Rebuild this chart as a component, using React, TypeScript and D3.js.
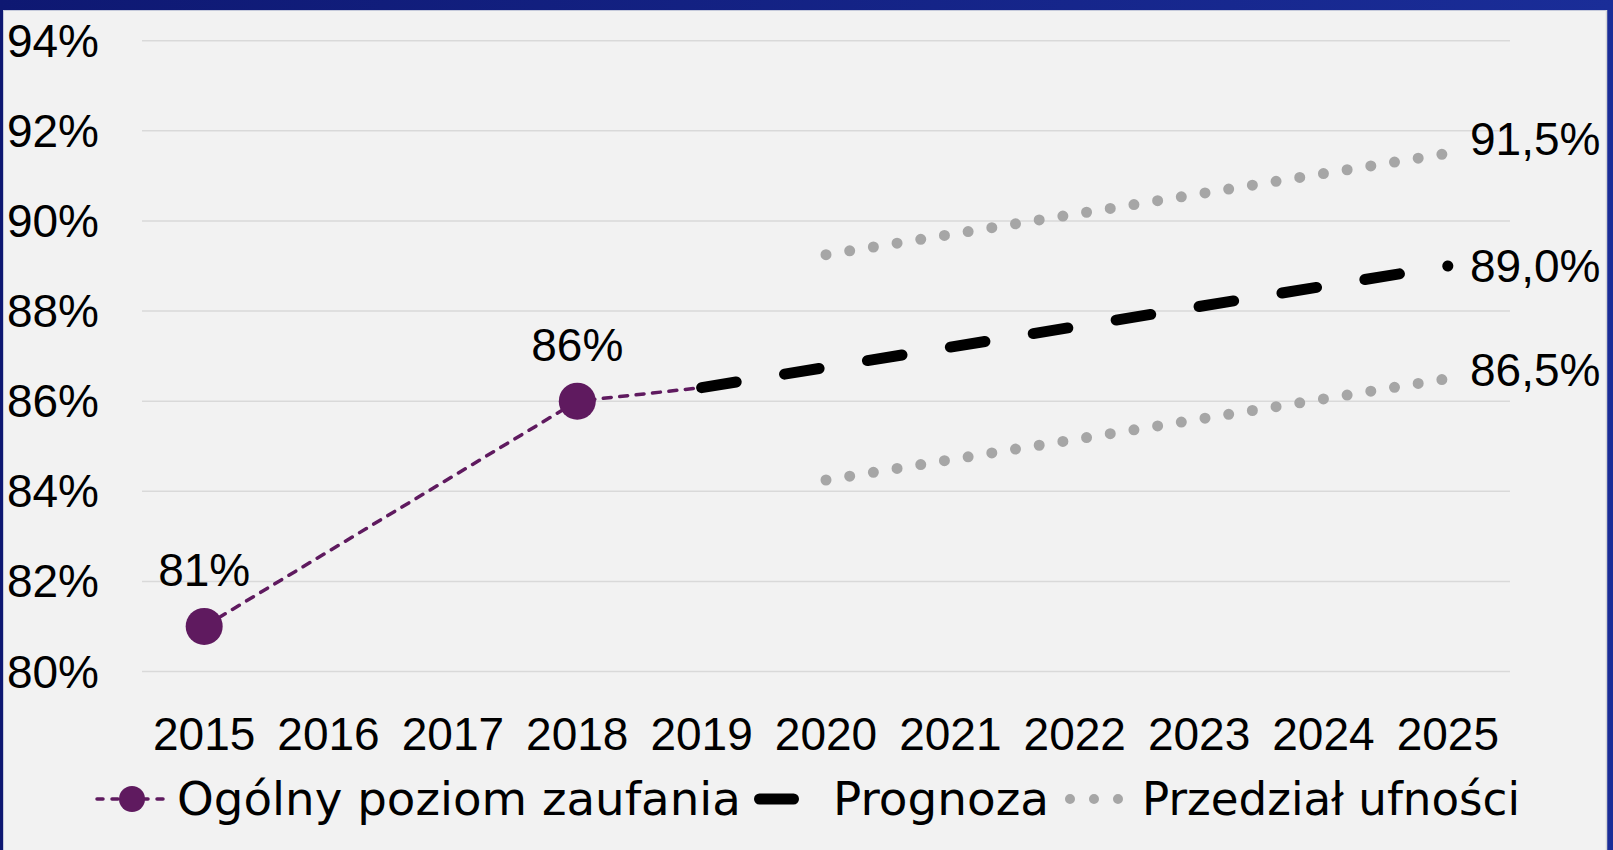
import React from 'react'
import * as d3 from 'd3'

// data
const years = [2015, 2016, 2017, 2018, 2019, 2020, 2021, 2022, 2023, 2024, 2025]
const yTicks = [80, 82, 84, 86, 88, 90, 92, 94]

const trustYears = [2015, 2018]
const trustValues = [81, 86]

const forecastYears = [2019, 2020, 2021, 2022, 2023, 2024, 2025]
const forecastValues = [86.3, 86.75, 87.2, 87.65, 88.1, 88.55, 89.0]

const bandYears = [2020, 2021, 2022, 2023, 2024, 2025]
const upperValues = [89.25, 89.7, 90.15, 90.6, 91.05, 91.5]
const lowerValues = [84.25, 84.7, 85.15, 85.6, 86.05, 86.5]

const legendLabels = ['Ogólny poziom zaufania', 'Prognoza', 'Przedział ufności']

const W = 1613, H = 850
const PURPLE = '#5f1a5f'
const GREY_DOT = '#a6a6a6'
const numFont = '"Century Gothic", "Liberation Sans", Arial, sans-serif'
const legFont = '"Century Gothic", "DejaVu Sans", sans-serif'

const pl = d3.formatLocale({ decimal: ',', thousands: ' ', grouping: [3], currency: ['', ' zł'] })
const fmt1 = pl.format('.1f')

export default function App() {
  const x = d3.scalePoint<number>().domain(years).range([142, 1510]).padding(0.5)
  const y = d3.scaleLinear().domain([80, 94]).range([671.5, 40.7])

  const line = d3.line<[number, number]>().x(d => x(d[0])!).y(d => y(d[1]))

  const trustPts: [number, number][] = trustYears.map((yr, i) => [yr, trustValues[i]])
  const forecastPts: [number, number][] = forecastYears.map((yr, i) => [yr, forecastValues[i]])
  const upperPts: [number, number][] = bandYears.map((yr, i) => [yr, upperValues[i]])
  const lowerPts: [number, number][] = bandYears.map((yr, i) => [yr, lowerValues[i]])
  // purple dashed line continues to where the forecast starts
  const trustLine = [...trustPts, forecastPts[0]]

  const endLabels = [
    { v: upperValues[upperValues.length - 1], dy: -14 },
    { v: forecastValues[forecastValues.length - 1], dy: 0 },
    { v: lowerValues[lowerValues.length - 1], dy: -9 },
  ]

  const legY = 799

  return (
    <svg width={W} height={H} style={{ position: 'absolute', left: 0, top: 0, display: 'block' }}>
      <defs>
        <linearGradient id="navy" x1="0" x2="1" y1="0" y2="0">
          <stop offset="0" stopColor="#0e1872" />
          <stop offset="1" stopColor="#1a2d98" />
        </linearGradient>
      </defs>
      <rect x={0} y={0} width={W} height={H} fill="url(#navy)" />
      <rect x={3} y={10} width={1604} height={H - 10} fill="#f2f2f2" />
      <line x1={3} x2={1607} y1={10.5} y2={10.5} stroke="#c5cadb" strokeWidth={1} />
      <line x1={1606.5} x2={1606.5} y1={10} y2={H} stroke="#d6d6d6" strokeWidth={1.5} />
      <line x1={3.5} x2={3.5} y1={10} y2={H} stroke="#c5cadb" strokeWidth={1} />

      {/* grid + y labels */}
      {yTicks.map(t => (
        <g key={t}>
          <line x1={142} x2={1510} y1={y(t)} y2={y(t)} stroke="#d9d9d9" strokeWidth={1.5} />
          <text x={99} y={y(t)} textAnchor="end" dominantBaseline="central"
            fontFamily={numFont} fontSize={46} fill="#000">{t}%</text>
        </g>
      ))}

      {/* x labels */}
      {years.map(yr => (
        <text key={yr} x={x(yr)} y={734} textAnchor="middle" dominantBaseline="central"
          fontFamily={numFont} fontSize={46} fill="#000">{yr}</text>
      ))}

      {/* confidence band */}
      <path d={line(upperPts)!} fill="none" stroke={GREY_DOT} strokeWidth={11}
        strokeLinecap="round" strokeDasharray="0 24" />
      <path d={line(lowerPts)!} fill="none" stroke={GREY_DOT} strokeWidth={11}
        strokeLinecap="round" strokeDasharray="0 24" />

      {/* forecast */}
      <path d={line(forecastPts)!} fill="none" stroke="#000" strokeWidth={11}
        strokeLinecap="round" strokeDasharray="35 49" />

      {/* trust series */}
      <path d={line(trustLine)!} fill="none" stroke={PURPLE} strokeWidth={3.5}
        strokeLinecap="round" strokeDasharray="8 8.5" />
      {trustPts.map(([yr, v]) => (
        <g key={yr}>
          <circle cx={x(yr)} cy={y(v)} r={18.5} fill={PURPLE} />
          <text x={x(yr)} y={y(v) - 56} textAnchor="middle" dominantBaseline="central"
            fontFamily={numFont} fontSize={46} fill="#000">{v}%</text>
        </g>
      ))}

      {/* end labels */}
      {endLabels.map((l, i) => (
        <text key={i} x={1470} y={y(l.v) + l.dy} dominantBaseline="central"
          fontFamily={numFont} fontSize={46} fill="#000">{fmt1(l.v)}%</text>
      ))}

      {/* legend */}
      <g>
        <line x1={97} x2={167} y1={legY} y2={legY} stroke={PURPLE} strokeWidth={3.5}
          strokeLinecap="round" strokeDasharray="6 9" />
        <circle cx={132} cy={legY} r={13} fill={PURPLE} />
        <text x={177} y={legY} dominantBaseline="central" fontFamily={legFont}
          fontSize={46} textLength={564} lengthAdjust="spacingAndGlyphs" fill="#000">{legendLabels[0]}</text>

        <line x1={759.5} x2={793.5} y1={legY} y2={legY} stroke="#000" strokeWidth={11}
          strokeLinecap="round" />
        <text x={833} y={legY} dominantBaseline="central" fontFamily={legFont}
          fontSize={46} textLength={216} lengthAdjust="spacingAndGlyphs" fill="#000">{legendLabels[1]}</text>

        <line x1={1070} x2={1119} y1={legY} y2={legY} stroke={GREY_DOT} strokeWidth={10}
          strokeLinecap="round" strokeDasharray="0 24" />
        <text x={1142} y={legY} dominantBaseline="central" fontFamily={legFont}
          fontSize={46} textLength={378} lengthAdjust="spacingAndGlyphs" fill="#000">{legendLabels[2]}</text>
      </g>
    </svg>
  )
}
